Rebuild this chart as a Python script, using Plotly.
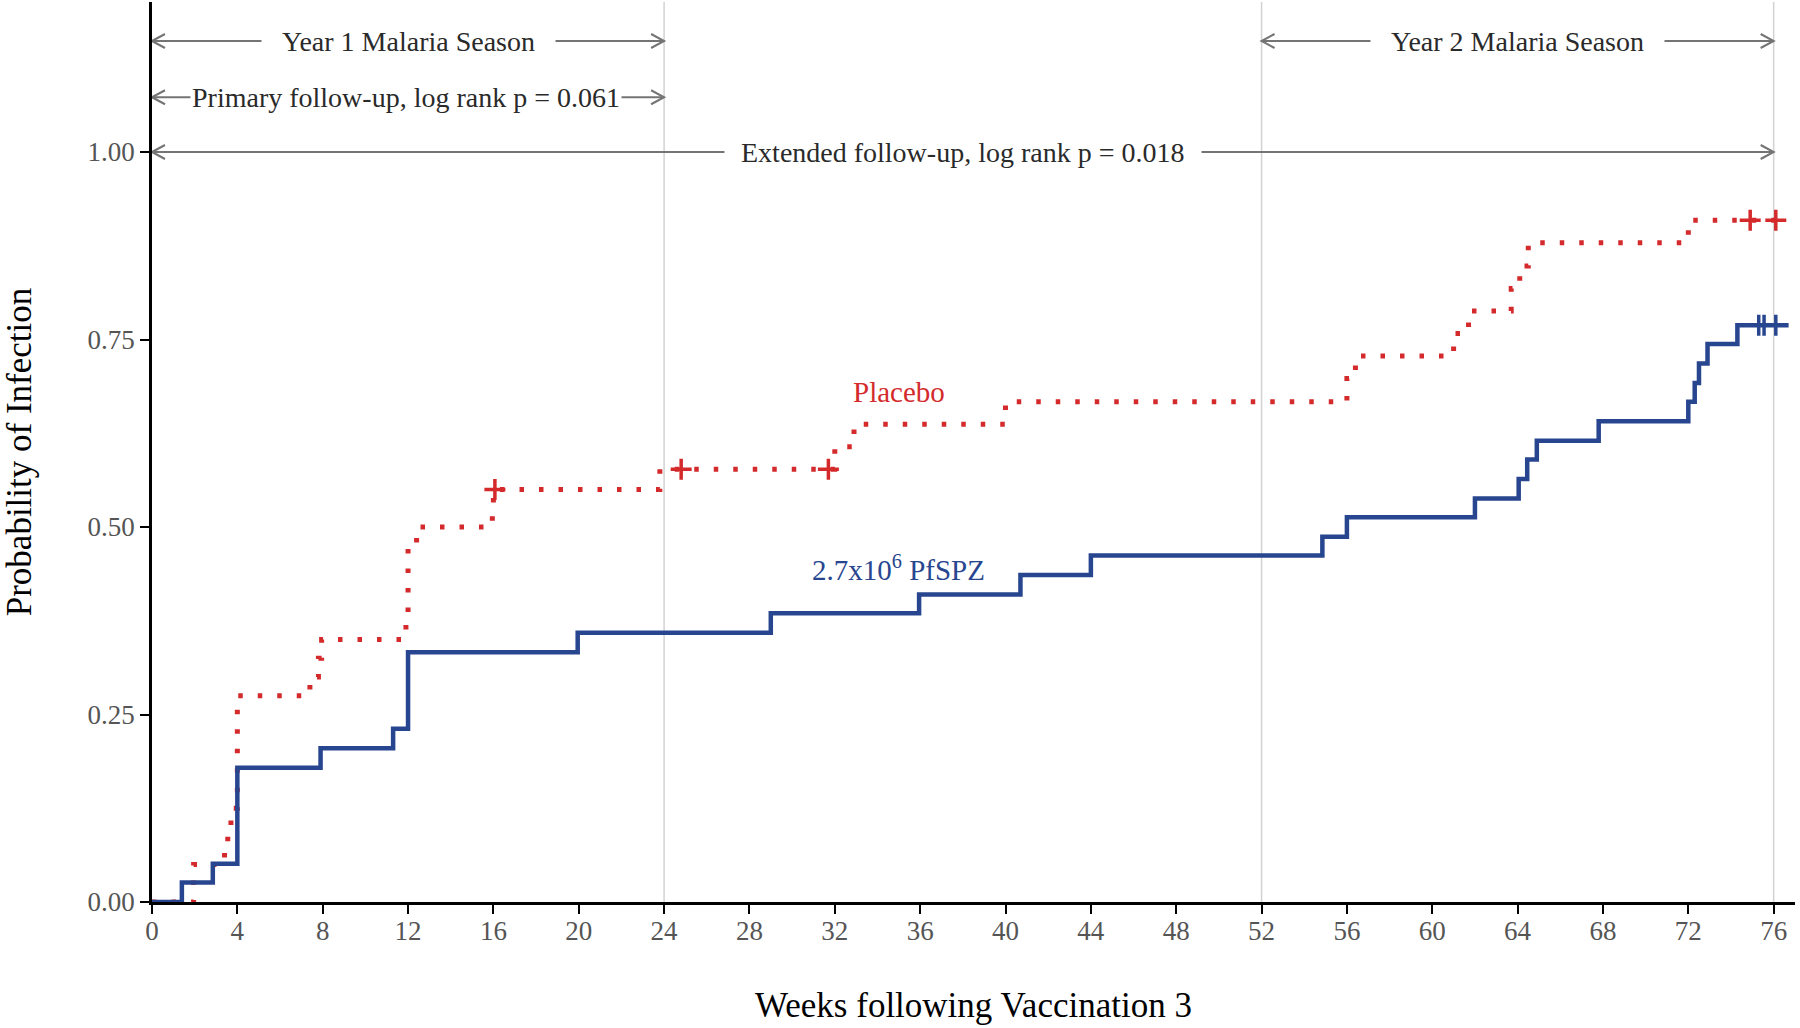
import plotly.graph_objects as go

# ---------------- data ----------------
weeks_pfspz = [0, 1.4, 2.85, 4.0, 7.9, 11.3, 12.0, 19.95, 29.0, 35.95, 40.7, 44.0,
               54.85, 56.0, 62.0, 64.05, 64.45, 64.9, 67.8, 72.0, 72.3, 72.5, 72.9,
               74.3, 76.7]
prob_pfspz = [0, 0.026, 0.051, 0.179, 0.205, 0.231, 0.333, 0.359, 0.385, 0.410, 0.436,
              0.462, 0.487, 0.513, 0.538, 0.564, 0.590, 0.615, 0.641, 0.667, 0.692,
              0.718, 0.744, 0.769, 0.769]

weeks_placebo = [0, 1.95, 3.4, 3.55, 3.7, 4.0, 7.4, 7.8, 7.95, 11.9, 12.0, 12.4,
                 15.95, 16.0, 23.8, 32.0, 32.9, 40.0, 56.0, 56.4, 61.0, 61.7, 63.7,
                 64.1, 64.5, 72.0, 76.5]
prob_placebo = [0, 0.05, 0.075, 0.10, 0.125, 0.275, 0.30, 0.325, 0.35, 0.375, 0.475,
                0.50, 0.525, 0.55, 0.577, 0.607, 0.637, 0.667, 0.698, 0.728, 0.758,
                0.788, 0.818, 0.848, 0.879, 0.909, 0.909]

cens_pfspz_weeks = [75.3, 75.55, 76.1]
cens_pfspz_prob = [0.769, 0.769, 0.769]
cens_placebo_weeks = [16.07, 24.8, 31.7, 74.9, 76.1]
cens_placebo_prob = [0.55, 0.577, 0.577, 0.909, 0.909]

x_ticks = list(range(0, 77, 4))
y_ticks = [0, 0.25, 0.5, 0.75, 1.0]
y_ticklabels = ["0.00", "0.25", "0.50", "0.75", "1.00"]
season_lines = [24, 52, 76]

span_starts = [0, 52, 0, 0]
span_ends = [24, 76, 24, 76]
span_levels = [1.148, 1.148, 1.073, 1.0]
span_centers = [12, 64, 11.9, 38]
span_texts = ["Year 1 Malaria Season", "Year 2 Malaria Season",
              "Primary follow-up, log rank p = 0.061",
              "Extended follow-up, log rank p = 0.018"]
span_pads = [20, 20, 1, 16]

RED = "#D42A2C"
BLUE = "#28468F"
GREY_ARROW = "#747474"
FONT = "Liberation Serif"

fig = go.Figure()

fig.add_trace(go.Scatter(x=weeks_placebo, y=prob_placebo, mode="lines",
                         line=dict(color=RED, width=5, dash="4.5px,15px", shape="hv"),
                         showlegend=False, hoverinfo="skip"))
fig.add_trace(go.Scatter(x=weeks_pfspz, y=prob_pfspz, mode="lines",
                         line=dict(color=BLUE, width=4.5, shape="hv"),
                         showlegend=False, hoverinfo="skip"))
fig.add_trace(go.Scatter(x=cens_placebo_weeks, y=cens_placebo_prob, mode="markers",
                         marker=dict(symbol="cross-thin", size=15, color=RED,
                                     line=dict(color=RED, width=3.5)),
                         cliponaxis=False, showlegend=False, hoverinfo="skip"))
fig.add_trace(go.Scatter(x=cens_pfspz_weeks, y=cens_pfspz_prob, mode="markers",
                         marker=dict(symbol="cross-thin", size=15, color=BLUE,
                                     line=dict(color=BLUE, width=3.5)),
                         cliponaxis=False, showlegend=False, hoverinfo="skip"))

for xv in season_lines:
    fig.add_shape(type="line", x0=xv, x1=xv, y0=0, y1=1.2, xref="x", yref="y",
                  line=dict(color="#d2d2d2", width=1.5), layer="below")

# double-headed arrows: line + open chevrons (pixel-sized heads)
for s, e, lv in zip(span_starts, span_ends, span_levels):
    fig.add_shape(type="line", x0=s, x1=e, y0=lv, y1=lv, xref="x", yref="y",
                  line=dict(color=GREY_ARROW, width=2), layer="above")
    fig.add_shape(type="path", xref="x", yref="y", xsizemode="pixel", ysizemode="pixel",
                  xanchor=e, yanchor=lv, path="M -13,-7 L 0,0 L -13,7",
                  line=dict(color=GREY_ARROW, width=2), layer="above")
    fig.add_shape(type="path", xref="x", yref="y", xsizemode="pixel", ysizemode="pixel",
                  xanchor=s, yanchor=lv, path="M 13,-7 L 0,0 L 13,7",
                  line=dict(color=GREY_ARROW, width=2), layer="above")

for lv, c, t, p in zip(span_levels, span_centers, span_texts, span_pads):
    fig.add_annotation(x=c, y=lv, xref="x", yref="y", text=t, showarrow=False,
                       bgcolor="white", borderpad=p,
                       font=dict(family=FONT, size=28, color="#2a2a2a"))

fig.add_annotation(x=35.0, y=0.68, xref="x", yref="y", text="Placebo", showarrow=False,
                   font=dict(family=FONT, size=29, color=RED))
fig.add_annotation(x=35.0, y=0.445, xref="x", yref="y",
                   text="2.7x10<sup>6</sup> PfSPZ", showarrow=False,
                   font=dict(family=FONT, size=29, color=BLUE))

axis_common = dict(showline=True, linecolor="black", linewidth=2.5, ticks="outside",
                   ticklen=9, tickwidth=2, tickcolor="black", showgrid=False,
                   zeroline=False, tickfont=dict(family=FONT, size=27, color="#555555"))

fig.update_layout(
    width=1800, height=1028,
    margin=dict(l=152, r=5, t=2, b=126),
    paper_bgcolor="white", plot_bgcolor="white",
    xaxis=dict(range=[0, 77], tickvals=x_ticks, ticklabelstandoff=-6,
               title=dict(text="Weeks following Vaccination 3", standoff=48,
                          font=dict(family=FONT, size=35, color="black")),
               **axis_common),
    yaxis=dict(range=[0, 1.2], tickvals=y_ticks, ticktext=y_ticklabels,
               title=dict(text="Probability of Infection", standoff=50,
                          font=dict(family=FONT, size=35, color="black")),
               **axis_common),
)

fig.write_html("out.html", config={"displayModeBar": False},
               post_script="document.body.style.margin='0px';")
